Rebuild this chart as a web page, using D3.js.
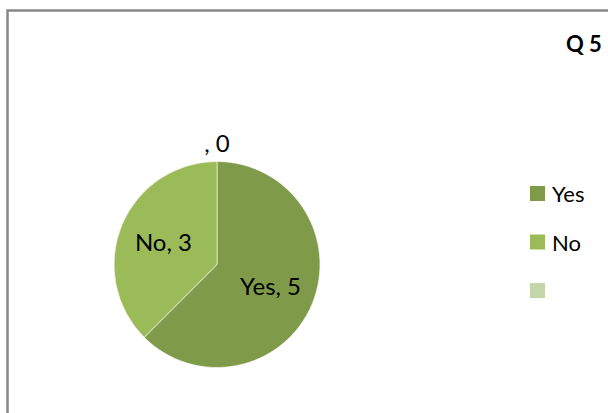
<!DOCTYPE html>
<html><head><meta charset="utf-8">
<script src="https://cdn.jsdelivr.net/npm/d3@7"></script>
<style>body{margin:0;background:#fff}svg{display:block}</style>
</head><body>
<script>
const categories = ["Yes", "No", ""];
const values = [5, 3, 0];
const colors = ["#7F9B49", "#9BBB59", "#C4D5A8"];
const title = "Q 5";

const W = 608, H = 413;
const svg = d3.select("body").append("svg").attr("width", W).attr("height", H);
svg.append("rect").attr("x", 0).attr("y", 0).attr("width", W).attr("height", H).attr("fill", "#fff");
svg.append("rect").attr("x", 7.5).attr("y", 10.5).attr("width", 800).attr("height", 600)
  .attr("fill", "none").attr("stroke", "#888").attr("stroke-width", 2.5);

const font = "Lato, 'Open Sans', sans-serif";
svg.append("text").attr("x", 566).attr("y", 52).text(title)
  .attr("font-family", font).attr("font-weight", "bold").attr("font-size", 22).attr("fill", "#000");

const cx = 217, cy = 264.5, r = 103;
const data = categories.map((c, i) => ({cat: c, val: values[i], color: colors[i]}));
const pie = d3.pie().value(d => d.val).sort(null).startAngle(0).endAngle(2 * Math.PI);
const arcs = pie(data);
const arc = d3.arc().innerRadius(0).outerRadius(r);
const g = svg.append("g").attr("transform", `translate(${cx},${cy})`);
g.selectAll("path").data(arcs.filter(d => d.data.val > 0)).enter().append("path")
  .attr("d", arc).attr("fill", d => d.data.color).attr("stroke", "#fff").attr("stroke-width", 0.6);

const inArc = d3.arc().innerRadius(58).outerRadius(58);
const outArc = d3.arc().innerRadius(121.5).outerRadius(121.5);
g.selectAll("text.lbl").data(arcs).enter().append("text").attr("class", "lbl")
  .attr("transform", d => {
    const [x, y] = (d.data.val > 0 ? inArc : outArc).centroid(d);
    return `translate(${x},${y + 8.5})`;
  })
  .attr("text-anchor", "middle")
  .attr("font-family", font).attr("font-size", 24).attr("fill", "#000")
  .text(d => `${d.data.cat}, ${d.data.val}`);

const leg = svg.append("g");
const ly = d3.scalePoint().domain(categories.map((c, i) => i)).range([186, 283]);
categories.forEach((c, i) => {
  leg.append("rect").attr("x", 530).attr("y", ly(i)).attr("width", 15).attr("height", 15).attr("fill", colors[i]);
  leg.append("text").attr("x", 552).attr("y", ly(i) + 16).text(c)
    .attr("font-family", font).attr("font-size", 22).attr("fill", "#000");
});
</script>
</body></html>
